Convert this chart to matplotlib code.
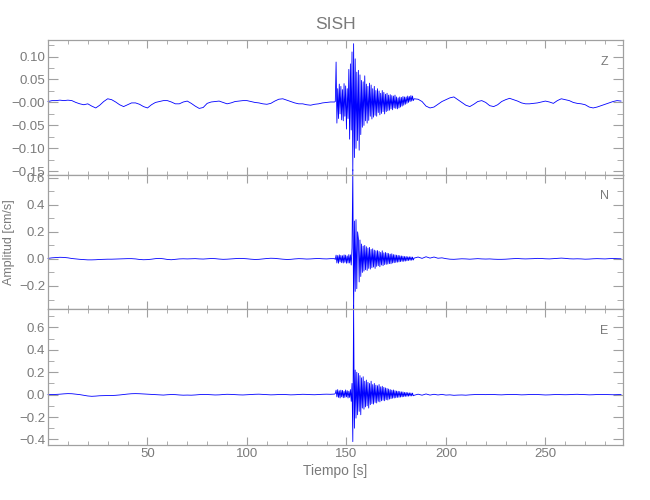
import numpy as np
import matplotlib
matplotlib.use("Agg")
import matplotlib.pyplot as plt
from matplotlib.ticker import MultipleLocator

plt.rcParams["font.family"] = ["Liberation Sans", "DejaVu Sans"]

STATION = "SISH"
COMPONENTS = ["Z", "N", "E"]

# record in three stretches with their own spacing [s]
T_PRE, DT_PRE = 0.0, 2.0      # quiet part before the arrival
T_EVT, DT_EVT = 144.0, 0.4    # strong motion
T_CODA, DT_CODA = 184.0, 2.0  # coda to end of record

# ---- Z component [cm/s] ----
Z_PRE = [0.002, 0.004, 0.004, 0.005, 0.004, 0.005, 0.004, 0.000, -0.003, -0.005,
         -0.003, -0.008, -0.012, -0.006, 0.002, 0.008, 0.006, 0.001, -0.005, -0.009,
         -0.005, -0.001, -0.001, -0.004, -0.009, -0.012, -0.005, 0.000, 0.002, 0.004,
         0.004, 0.001, -0.003, -0.003, 0.001, 0.003, -0.002, -0.008, -0.013, -0.011,
         -0.002, 0.001, 0.002, 0.003, 0.000, -0.003, -0.001, 0.002, 0.003, 0.004,
         0.004, 0.002, 0.000, -0.001, -0.003, -0.004, -0.002, 0.003, 0.007, 0.008,
         0.005, 0.002, -0.001, -0.003, -0.003, -0.005, -0.006, -0.004, -0.003, -0.001,
         0.000, 0.001]
Z_EVT = [0.001, 0.002, 0.088, -0.045, 0.030, -0.035, 0.040, -0.025, 0.035, -0.038,
         0.028, -0.040, 0.041, -0.030, 0.036, -0.058, 0.030, -0.035, 0.072, -0.080,
         0.084, -0.060, 0.110, -0.149, 0.128, -0.120, 0.095, -0.100, 0.066, -0.083,
         0.070, -0.104, 0.060, -0.070, 0.048, -0.054, 0.045, -0.050, 0.058, -0.040,
         0.040, -0.045, 0.035, -0.039, 0.042, -0.030, 0.038, -0.036, 0.030, -0.032,
         0.035, -0.028, 0.026, -0.030, 0.030, -0.022, 0.025, -0.027, 0.020, -0.024,
         0.026, -0.020, 0.022, -0.025, 0.018, -0.020, 0.020, -0.018, 0.016, -0.017,
         0.017, -0.014, 0.015, -0.016, 0.014, -0.012, 0.016, -0.013, 0.012, -0.014,
         0.010, -0.012, 0.012, -0.010, 0.011, -0.008, 0.013, -0.006, 0.012, -0.004,
         0.012, -0.002, 0.014, 0.000, 0.013, 0.002, 0.015, 0.003, 0.014, 0.004]
Z_CODA = [0.008, 0.007, 0.002, -0.008, -0.012, -0.010, -0.004, 0.002, 0.006, 0.010,
          0.012, 0.006, 0.000, -0.006, -0.009, -0.004, 0.002, 0.004, 0.000, -0.007,
          -0.009, -0.005, 0.002, 0.006, 0.009, 0.006, 0.003, -0.001, -0.003, -0.003,
          -0.002, -0.001, 0.001, 0.003, 0.001, -0.002, 0.004, 0.008, 0.006, 0.004,
          0.000, -0.002, -0.003, -0.005, -0.010, -0.012, -0.010, -0.007, -0.004, -0.001,
          0.002, 0.004, 0.003]

# ---- N component [cm/s] ----
N_PRE = [0.004, 0.008, 0.010, 0.012, 0.011, 0.008, 0.003, 0.000, -0.003, -0.005,
         -0.007, -0.007, -0.006, -0.004, -0.003, -0.002, -0.002, -0.001, 0.000, 0.001,
         0.002, 0.002, 0.000, -0.004, -0.006, -0.005, -0.002, 0.002, 0.004, 0.001,
         -0.004, -0.006, -0.003, 0.000, 0.001, 0.000, 0.001, 0.002, 0.000, -0.001,
         0.001, 0.003, 0.002, -0.001, -0.003, -0.002, 0.000, 0.002, 0.004, 0.003,
         0.001, -0.002, -0.004, -0.003, 0.000, 0.003, 0.005, 0.004, 0.001, -0.002,
         -0.004, -0.003, 0.000, 0.002, 0.001, -0.001, 0.000, 0.002, 0.003, 0.001,
         0.000, 0.002]
N_EVT = [0.002, -0.004, 0.028, -0.030, 0.025, -0.032, 0.030, -0.022, 0.026, -0.028,
         0.024, -0.030, 0.030, -0.025, 0.028, -0.032, 0.022, -0.030, 0.032, -0.030,
         0.030, -0.045, 0.080, 0.660, -0.420, 0.280, -0.240, 0.290, -0.220, 0.200,
         0.150, -0.170, 0.140, -0.130, 0.110, -0.100, 0.095, -0.090, 0.100, -0.080,
         0.090, -0.085, 0.080, -0.070, 0.085, -0.075, 0.070, -0.065, 0.075, -0.060,
         0.065, -0.070, 0.060, -0.055, 0.062, -0.050, 0.055, -0.058, 0.048, -0.045,
         0.060, -0.050, 0.045, -0.042, 0.048, -0.040, 0.042, -0.038, 0.040, -0.035,
         0.035, -0.036, 0.038, -0.030, 0.032, -0.028, 0.030, -0.026, 0.028, -0.024,
         0.026, -0.022, 0.024, -0.020, 0.022, -0.018, 0.020, -0.018, 0.018, -0.016,
         0.018, -0.014, 0.016, -0.012, 0.016, -0.010, 0.015, -0.010, 0.014, -0.008]
N_CODA = [0.006, 0.014, 0.004, 0.016, 0.006, 0.014, 0.005, 0.008, 0.002, -0.002,
          -0.003, -0.001, 0.001, 0.000, -0.002, 0.000, 0.002, 0.000, -0.001, 0.000,
          -0.002, -0.003, -0.003, -0.002, 0.000, 0.002, 0.003, 0.001, 0.000, 0.001,
          0.002, 0.004, 0.003, 0.001, 0.000, 0.002, 0.004, 0.006, 0.004, 0.001,
          0.000, 0.001, 0.000, -0.002, -0.001, 0.001, 0.002, 0.001, 0.000, 0.002,
          0.003, 0.002, 0.001]

# ---- E component [cm/s] ----
E_PRE = [0.000, 0.001, 0.002, 0.004, 0.007, 0.009, 0.008, 0.004, 0.000, -0.006,
         -0.012, -0.015, -0.013, -0.010, -0.009, -0.008, -0.008, -0.006, -0.003, 0.001,
         0.005, 0.008, 0.009, 0.008, 0.006, 0.004, 0.002, 0.000, -0.002, -0.004,
         -0.001, 0.001, 0.000, -0.003, -0.005, -0.004, -0.005, -0.003, 0.000, 0.002,
         0.001, -0.001, -0.003, -0.002, 0.001, 0.003, 0.002, 0.000, -0.002, -0.003,
         -0.001, 0.001, 0.003, 0.004, 0.002, 0.000, -0.002, -0.001, 0.001, 0.002,
         0.000, -0.002, -0.001, 0.001, 0.003, 0.002, 0.000, -0.001, 0.001, 0.003,
         0.004, 0.003]
E_EVT = [0.005, 0.010, 0.040, -0.020, 0.045, -0.025, 0.035, -0.030, 0.040, -0.020,
         0.038, -0.028, 0.030, -0.025, 0.042, -0.020, 0.035, -0.030, 0.030, -0.025,
         0.045, -0.060, 0.100, -0.420, 0.800, -0.300, 0.220, -0.210, 0.200, -0.180,
         0.190, -0.150, 0.170, -0.180, 0.150, -0.120, 0.160, -0.130, 0.120, -0.110,
         0.130, -0.100, 0.110, -0.120, 0.100, -0.090, 0.120, -0.080, 0.090, -0.085,
         0.100, -0.070, 0.085, -0.075, 0.080, -0.060, 0.090, -0.065, 0.070, -0.055,
         0.075, -0.050, 0.065, -0.055, 0.060, -0.045, 0.055, -0.048, 0.050, -0.040,
         0.045, -0.036, 0.040, -0.032, 0.042, -0.030, 0.035, -0.028, 0.032, -0.025,
         0.030, -0.024, 0.028, -0.022, 0.025, -0.020, 0.024, -0.018, 0.020, -0.016,
         0.020, -0.015, 0.018, -0.014, 0.016, -0.012, 0.015, -0.012, 0.014, -0.010]
E_CODA = [-0.006, 0.004, -0.005, 0.006, -0.004, 0.003, -0.003, 0.002, -0.004, -0.002,
          -0.006, -0.004, -0.003, -0.005, -0.002, 0.000, 0.002, 0.001, 0.000, 0.002,
          0.001, -0.001, -0.002, 0.000, 0.001, 0.002, 0.000, -0.002, -0.001, 0.001,
          0.002, 0.001, -0.001, -0.003, -0.002, 0.000, 0.001, 0.000, -0.001, 0.000,
          0.002, 0.003, 0.001, 0.000, -0.002, -0.001, 0.001, 0.002, 0.001, 0.000,
          -0.001, 0.000, 0.001]

# axis ranges and tick labels as printed on the plot
X_RANGE = (0, 289)
X_TICKS = [50, 100, 150, 200, 250]
Y_RANGES = [(-0.158, 0.136), (-0.37, 0.62), (-0.45, 0.765)]
Y_TICKS = [[-0.15, -0.10, -0.05, 0.0, 0.05, 0.10],
           [-0.2, 0.0, 0.2, 0.4, 0.6],
           [-0.4, -0.2, 0.0, 0.2, 0.4, 0.6]]
Y_TICKLABELS = [["\u22120.15", "\u22120.10", "\u22120.05", "\u22120.00", "0.05", "0.10"],
                ["\u22120.2", "0.0", "0.2", "0.4", "0.6"],
                ["\u22120.4", "\u22120.2", "0.0", "0.2", "0.4", "0.6"]]
Y_MINOR = [0.025, 0.1, 0.1]


def build(pre, evt, coda):
    t = np.concatenate([T_PRE + DT_PRE * np.arange(len(pre)),
                        T_EVT + DT_EVT * np.arange(len(evt)),
                        T_CODA + DT_CODA * np.arange(len(coda))])
    return t, np.array(pre + evt + coda)


traces = [build(Z_PRE, Z_EVT, Z_CODA),
          build(N_PRE, N_EVT, N_CODA),
          build(E_PRE, E_EVT, E_CODA)]

AX_COL = "#a0a0a0"
TXT_COL = "#7a7a7a"

fig = plt.figure(figsize=(6.5, 5.0), dpi=100)
W, H = 650.0, 500.0
# panel edges in pixels: (top, bottom)
edges = [(40, 175), (175, 309), (309, 445)]
axes = []
for i, (top, bot) in enumerate(edges):
    ax = fig.add_axes([48 / W, 1 - bot / H, 575 / W, (bot - top) / H])
    t, v = traces[i]
    ax.plot(t, v, color="#0000ff", lw=0.6, clip_on=False)
    ax.set_xlim(*X_RANGE)
    ax.set_ylim(*Y_RANGES[i])
    ax.set_xticks(X_TICKS)
    ax.xaxis.set_minor_locator(MultipleLocator(10))
    ax.set_yticks(Y_TICKS[i])
    ax.set_yticklabels(Y_TICKLABELS[i])
    ax.yaxis.set_minor_locator(MultipleLocator(Y_MINOR[i]))
    ax.tick_params(which="both", direction="in", top=True, right=True,
                   color=AX_COL, labelcolor=TXT_COL, labelsize=9.5, pad=2)
    ax.tick_params(axis="x", which="major", length=6)
    ax.tick_params(axis="x", which="minor", length=3)
    ax.tick_params(axis="y", which="major", length=7)
    ax.tick_params(axis="y", which="minor", length=4)
    for s in ax.spines.values():
        s.set_color(AX_COL)
        s.set_linewidth(0.9)
    if i < 2:
        ax.tick_params(axis="x", labelbottom=False)
    ax.text(0.968, 0.84, COMPONENTS[i], transform=ax.transAxes, ha="center",
            va="center", fontsize=9, color=TXT_COL)
    axes.append(ax)

axes[0].set_title(STATION, fontsize=12.5, color=TXT_COL, pad=8)
axes[1].set_ylabel("Amplitud [cm/s]", fontsize=9, color=TXT_COL)
axes[1].yaxis.set_label_coords(-0.057, 0.5)
axes[2].set_xlabel("Tiempo [s]", fontsize=10, color=TXT_COL, labelpad=3)

fig.savefig("out.png", dpi=100, facecolor="white")
